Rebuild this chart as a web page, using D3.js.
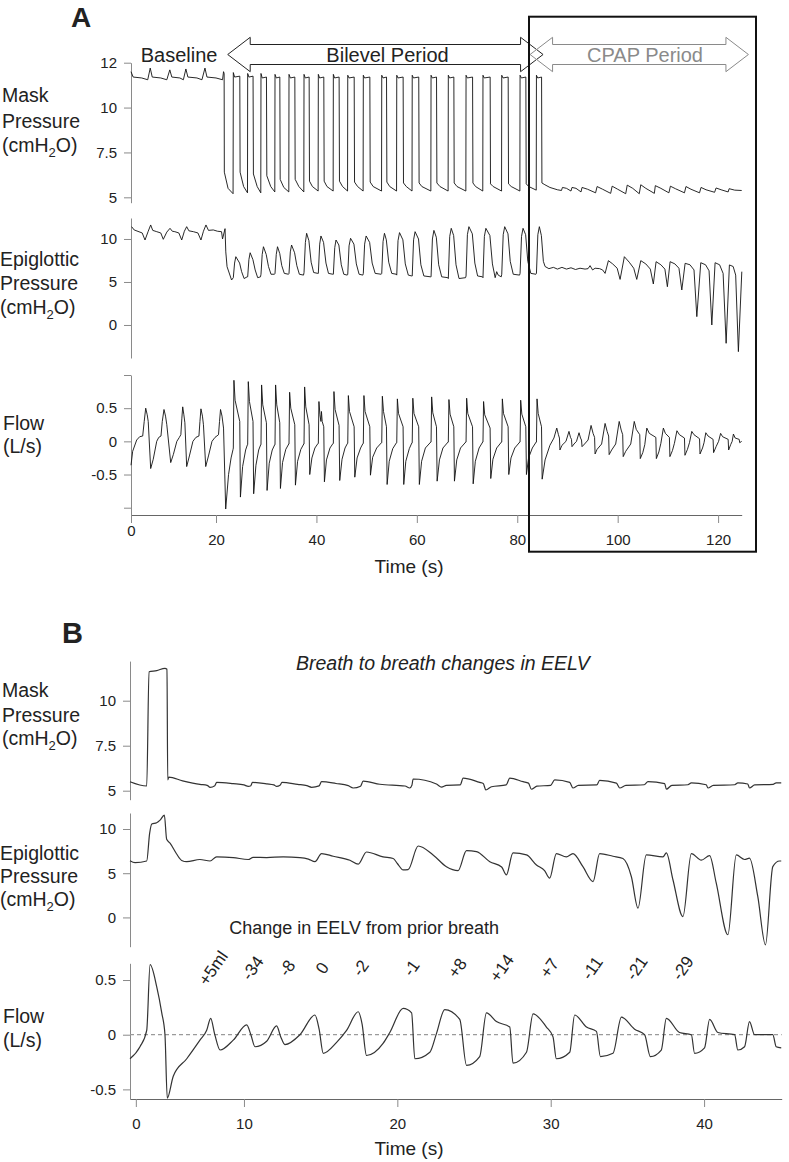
<!DOCTYPE html>
<html>
<head>
<meta charset="utf-8">
<script src="https://cdn.jsdelivr.net/npm/d3@7"></script>
<style>
body { margin: 0; background: #fff; }
text { font-family: "Liberation Sans", Arial, sans-serif; fill: #222; }
</style>
</head>
<body>
<div id="chart"></div>
<script>
// ---- panel A traces, [time s, value] ----
var maskA = [
[3.07,12.0],[3.5,11.7],[5.2,11.65],[6.4,11.55],[6.9,12.2],[7.3,11.7],[9.0,11.65],[10.2,11.55],[10.8,12.1],[11.2,11.7],[12.8,11.65],[13.5,11.55],[14.0,12.15],[14.4,11.7],[16.2,11.65],[17.2,11.55],[17.8,12.2],[18.2,11.7],[20.0,11.65],[21.3,11.55],[21.5,12.0],[21.62,11.9],
[21.66,6.4],[22.4,5.5],[23.4,5.2],
[23.45,11.95],[23.7,11.7],[24.74,11.75],[24.8,6.4],[25.5,5.6],[26.27,5.25],
[26.31,11.9],[26.55,11.7],[27.38,11.75],[27.45,6.3],[28.2,5.6],[28.92,5.25],
[28.96,11.9],[29.2,11.65],[30.05,11.7],[30.12,6.2],[30.9,5.6],[31.71,5.3],
[31.75,11.85],[32.0,11.65],[32.71,11.7],[32.78,6.0],[33.5,5.55],[34.5,5.3],
[34.54,11.85],[34.8,11.65],[35.7,11.7],[35.77,6.0],[36.5,5.6],[37.49,5.3],
[37.53,11.85],[37.78,11.65],[38.55,11.7],[38.62,5.9],[39.2,5.6],[40.34,5.35],
[40.38,11.85],[40.63,11.65],[41.47,11.7],[41.54,5.9],[42.1,5.6],[43.33,5.35],
[43.37,11.85],[43.62,11.65],[44.52,11.7],[44.59,5.9],[45.2,5.6],[46.2,5.35],
[46.24,11.8],[46.49,11.65],[47.52,11.7],[47.59,5.85],[48.2,5.6],[49.3,5.35],
[49.34,11.8],[49.59,11.65],[50.64,11.7],[50.71,5.85],[51.3,5.6],[52.97,5.35],
[53.01,11.8],[53.26,11.65],[53.96,11.7],[54.03,5.85],[54.6,5.6],[55.96,5.35],
[56.0,11.8],[56.25,11.65],[57.27,11.7],[57.34,5.8],[57.9,5.6],[59.04,5.35],
[59.08,11.8],[59.33,11.65],[60.38,11.7],[60.45,5.8],[61.0,5.6],[62.79,5.35],
[62.83,11.8],[63.08,11.65],[63.92,11.7],[63.99,5.8],[64.6,5.6],[66.23,5.35],
[66.27,11.8],[66.52,11.65],[67.37,11.7],[67.44,5.8],[68.0,5.6],[69.76,5.35],
[69.8,11.8],[70.05,11.65],[71.1,11.7],[71.17,5.8],[71.7,5.6],[73.13,5.35],
[73.17,11.8],[73.42,11.65],[74.6,11.7],[74.67,5.75],[75.2,5.6],[76.87,5.35],
[76.91,11.8],[77.16,11.65],[78.19,11.7],[78.26,5.75],[78.8,5.6],[80.52,5.35],
[80.56,11.8],[80.81,11.65],[81.71,11.7],[81.78,5.75],[82.3,5.6],[83.78,5.4],
[83.82,11.8],[84.07,11.65],[84.84,11.7],[84.91,5.8],
[85.5,5.7],[86.5,5.55],[88.0,5.42],[88.8,5.38],[89.0,5.55],[89.8,5.5],[90.7,5.35],[90.9,5.55],[91.7,5.5],[92.7,5.3],[92.9,5.55],[94.0,5.45],[95.6,5.25],[95.9,5.6],[97.0,5.45],[98.6,5.22],[98.9,5.62],[100.0,5.45],[101.6,5.2],[101.9,5.68],[103.0,5.5],[104.3,5.2],[104.6,5.7],[105.6,5.5],[107.3,5.22],[107.5,5.65],[108.6,5.5],[110.2,5.25],[110.5,5.62],[111.5,5.48],[113.3,5.25],[113.6,5.6],[114.6,5.45],[116.3,5.25],[116.6,5.55],[117.6,5.42],[119.3,5.28],[119.6,5.52],[120.6,5.42],[122.0,5.3],[122.2,5.48],[123.3,5.4],[124.7,5.38]
];

var epiA = [
[3.2,11.43],[3.7,11.05],[5.3,10.7],[5.86,9.88],[6.5,10.9],[6.99,11.63],[7.4,11.0],[8.2,10.85],[9.0,10.7],[9.5,9.96],[10.2,10.8],[10.84,11.24],[11.3,10.9],[11.8,10.85],[12.6,10.7],[13.17,9.88],[13.7,10.9],[14.16,11.43],[14.6,10.95],[15.5,10.85],[16.4,10.7],[17.0,9.88],[17.5,10.9],[18.0,11.63],[18.5,11.0],[19.46,11.05],[20.3,10.9],[21.1,10.85],[21.3,10.0],[21.8,11.2],[21.95,8.5],[22.2,6.78],[23.1,5.23],
[23.45,5.5],[23.7,7.2],[23.95,7.94],[24.7,7.2],[25.1,6.2],[25.6,5.4],[26.2,5.6],
[26.31,5.6],[26.55,7.6],[26.8,8.4],[27.35,7.6],[27.8,6.4],[28.3,5.5],[28.86,5.6],
[28.96,5.9],[29.2,8.2],[29.45,9.1],[30.0,8.2],[30.45,6.8],[30.95,5.9],[31.65,5.9],
[31.75,6.0],[32.0,8.2],[32.25,9.1],[32.7,8.3],[33.1,6.9],[33.6,6.0],[34.44,5.9],
[34.54,6.0],[34.8,8.5],[35.05,9.3],[35.65,8.4],[36.1,6.9],[36.6,5.9],[37.43,5.8],
[37.53,6.1],[37.8,9.6],[38.05,10.66],[38.5,9.8],[38.95,7.3],[39.45,6.1],[40.28,6.0],
[40.38,6.0],[40.65,9.4],[40.9,10.35],[41.42,9.6],[41.9,7.2],[42.4,6.0],[43.27,5.9],
[43.37,5.9],[43.65,9.0],[43.9,9.88],[44.47,9.3],[44.95,7.0],[45.45,5.9],[46.14,5.8],
[46.24,5.9],[46.5,9.2],[46.8,10.08],[47.47,9.4],[47.95,7.1],[48.5,5.9],[49.24,5.8],
[49.34,6.0],[49.6,9.4],[49.9,10.35],[50.6,9.6],[51.1,7.2],[51.7,6.0],[52.9,5.9],
[53.01,6.0],[53.27,9.7],[53.55,10.66],[53.92,9.9],[54.4,7.3],[55.0,6.0],[55.9,5.9],
[56.0,5.8],[56.25,9.8],[56.55,10.74],[57.22,9.9],[57.7,7.1],[58.3,5.8],[58.98,5.7],
[59.08,5.7],[59.35,9.9],[59.65,10.85],[60.33,10.0],[60.8,7.0],[61.4,5.7],[62.73,5.6],
[62.83,5.6],[63.1,10.0],[63.4,11.0],[63.88,10.2],[64.35,7.0],[64.95,5.6],[66.17,5.5],
[66.27,5.4],[66.55,10.3],[66.85,11.24],[67.33,10.4],[67.8,7.0],[68.4,5.4],[69.7,5.5],
[69.8,5.7],[70.07,10.5],[70.37,11.43],[71.05,10.6],[71.55,7.2],[72.1,5.7],[73.07,5.6],
[73.17,5.5],[73.45,10.3],[73.75,11.24],[74.55,10.4],[75.05,7.1],[75.6,5.5],[75.9,6.2],[76.2,5.8],[76.81,5.6],
[76.91,5.9],[77.2,10.5],[77.5,11.43],[78.15,10.6],[78.6,7.4],[79.2,5.9],[80.46,5.8],
[80.56,6.0],[80.85,10.3],[81.15,11.24],[81.67,10.5],[82.1,7.4],[82.7,6.0],[83.72,5.9],
[83.82,6.0],[84.1,10.5],[84.4,11.43],[84.8,10.4],[85.2,7.4],
[85.54,6.8],[86.3,6.55],[87.2,6.7],[88.0,6.5],[88.9,6.7],[89.8,6.5],[90.7,6.65],[91.6,6.45],[92.5,6.6],[93.5,6.5],[94.1,6.55],[94.5,6.9],[95.0,6.4],[95.5,6.6],[96.4,6.55],[97.0,6.4],[97.49,6.0],[98.15,7.48],[99.0,7.1],[99.9,6.6],[100.48,5.3],[101.33,7.94],[102.3,7.3],[103.2,6.6],[103.8,5.3],[104.6,7.48],[105.6,7.1],[106.5,6.5],[107.1,4.77],[107.65,7.36],[108.6,7.0],[109.4,6.5],[109.9,4.45],[110.44,7.36],[111.4,7.1],[112.2,6.6],[112.77,4.07],[113.43,7.17],[114.4,7.0],[115.2,6.4],[115.76,0.97],[116.55,7.24],[117.5,7.0],[118.2,6.3],[118.75,0.0],[119.4,7.24],[120.3,7.0],[121.0,6.0],[121.6,-2.13],[122.25,6.98],[123.0,6.8],[123.5,5.8],[124.04,-3.1],[124.72,6.2]
];

var flowA = [
[3.07,-0.36],[3.4,-0.15],[4.2,0.02],[4.8,0.07],[5.4,0.08],[5.7,0.3],[6.0,0.5],[6.3,0.4],[6.5,0.3],[6.99,-0.41],[7.5,-0.27],[8.19,0.0],[8.6,0.06],[9.04,0.08],[9.3,0.3],[9.64,0.48],[9.95,0.38],[10.2,0.25],[10.98,-0.32],[11.5,-0.2],[12.2,0.0],[12.7,0.06],[13.0,0.1],[13.2,0.35],[13.37,0.52],[13.6,0.4],[13.8,0.28],[14.16,-0.38],[14.7,-0.22],[15.4,0.0],[16.0,0.06],[16.6,0.08],[16.8,0.3],[17.0,0.49],[17.3,0.38],[17.5,0.25],[17.95,-0.38],[18.5,-0.22],[19.2,0.0],[19.8,0.06],[20.5,0.1],[20.7,0.3],[20.9,0.48],[21.2,0.38],[21.5,0.2],[21.93,-1.02],[22.5,-0.5],[23.0,-0.25],[23.4,-0.12],
[23.45,-0.1],[23.57,0.92],[23.8,0.62],[24.73,0.3],[24.86,-0.84],[25.3,-0.38],[25.9,-0.13],[26.26,-0.05],
[26.31,-0.05],[26.43,0.90],[26.66,0.6],[27.37,0.3],[27.5,-0.79],[27.95,-0.36],[28.5,-0.13],[28.91,-0.05],
[28.96,-0.05],[29.08,0.85],[29.31,0.55],[30.04,0.28],[30.17,-0.74],[30.6,-0.33],[31.2,-0.13],[31.7,-0.05],
[31.75,-0.05],[31.87,0.85],[32.1,0.55],[32.7,0.28],[32.83,-0.71],[33.25,-0.32],[33.9,-0.12],[34.49,-0.04],
[34.54,-0.04],[34.66,0.74],[34.89,0.5],[35.69,0.25],[35.82,-0.66],[36.25,-0.3],[36.9,-0.12],[37.48,-0.04],
[37.53,-0.04],[37.65,0.82],[37.88,0.52],[38.54,0.25],[38.67,-0.5],[39.1,-0.25],[39.7,-0.1],[40.33,-0.03],
[40.38,-0.03],[40.5,0.6],[40.7,0.4],[40.9,0.3],[41.0,0.45],[41.15,0.3],[41.46,0.22],[41.59,-0.61],[42.0,-0.28],[42.7,-0.1],[43.32,-0.03],
[43.37,-0.03],[43.49,0.75],[43.72,0.48],[44.51,0.24],[44.64,-0.59],[45.1,-0.27],[45.7,-0.1],[46.19,-0.03],
[46.24,-0.03],[46.36,0.69],[46.59,0.45],[47.51,0.22],[47.64,-0.54],[48.1,-0.25],[48.8,-0.1],[49.29,-0.03],
[49.34,-0.03],[49.46,0.69],[49.69,0.45],[50.63,0.22],[50.76,-0.51],[51.2,-0.24],[52.0,-0.1],[52.96,-0.02],
[53.01,-0.02],[53.13,0.68],[53.36,0.45],[53.95,0.22],[54.08,-0.65],[54.5,-0.3],[55.2,-0.11],[55.95,-0.02],
[56.0,-0.02],[56.12,0.64],[56.35,0.42],[57.26,0.22],[57.39,-0.65],[57.8,-0.3],[58.5,-0.11],[59.03,-0.02],
[59.08,-0.02],[59.2,0.65],[59.43,0.42],[60.37,0.22],[60.5,-0.65],[60.95,-0.3],[61.7,-0.1],[62.78,-0.01],
[62.83,-0.01],[62.95,0.67],[63.18,0.43],[63.91,0.22],[64.04,-0.6],[64.5,-0.28],[65.2,-0.1],[66.22,-0.01],
[66.27,-0.01],[66.39,0.63],[66.62,0.41],[67.36,0.22],[67.49,-0.6],[67.95,-0.28],[68.7,-0.1],[69.75,-0.01],
[69.8,-0.01],[69.92,0.65],[70.15,0.42],[71.09,0.22],[71.22,-0.64],[71.65,-0.3],[72.4,-0.1],[73.12,-0.01],
[73.17,-0.01],[73.29,0.6],[73.52,0.4],[74.59,0.2],[74.72,-0.56],[75.15,-0.27],[75.9,-0.1],[76.86,-0.01],
[76.91,-0.01],[77.03,0.64],[77.26,0.42],[78.18,0.22],[78.31,-0.5],[78.75,-0.25],[79.5,-0.1],[80.51,-0.01],
[80.56,-0.01],[80.68,0.62],[80.91,0.41],[81.7,0.22],[81.83,-0.5],[82.25,-0.25],[83.0,-0.1],[83.77,-0.01],
[83.82,-0.01],[83.94,0.64],[84.17,0.42],[84.83,0.22],[84.96,-0.57],[85.54,-0.28],[86.5,-0.06],
[87.3,0.05],[87.87,0.2],[88.2,0.1],[88.4,0.05],[88.5,-0.13],[88.9,-0.06],[89.7,0.0],[90.3,0.15],[90.6,0.06],[90.8,0.03],[90.9,-0.08],[91.3,-0.04],[91.8,0.0],[92.3,0.13],[92.6,0.05],[92.8,0.02],[92.9,-0.08],[93.4,-0.04],[94.1,0.02],[94.7,0.24],[95.1,0.12],[95.4,0.06],[95.5,-0.19],[95.9,-0.12],[96.8,-0.04],[97.49,0.27],[97.9,0.15],[98.2,0.08],[98.3,-0.2],[98.8,-0.13],[99.6,-0.04],[100.3,0.3],[100.7,0.17],[101.0,0.1],[101.1,-0.23],[101.6,-0.15],[102.6,-0.04],[103.3,0.3],[103.7,0.18],[104.4,0.1],[104.5,-0.26],[105.0,-0.17],[105.4,-0.05],[105.8,0.2],[106.3,0.12],[107.6,0.06],[107.7,-0.26],[108.2,-0.16],[108.6,-0.03],[109.1,0.2],[109.5,0.12],[110.3,0.06],[110.4,-0.23],[110.9,-0.14],[111.3,-0.03],[111.8,0.16],[112.3,0.1],[113.3,0.05],[113.4,-0.21],[113.9,-0.12],[114.3,-0.02],[114.76,0.15],[115.2,0.1],[116.3,0.04],[116.4,-0.19],[116.9,-0.1],[117.2,-0.02],[117.55,0.13],[118.0,0.08],[119.0,0.03],[119.1,-0.17],[119.6,-0.08],[120.1,0.0],[120.5,0.12],[120.9,0.07],[122.0,0.03],[122.1,-0.13],[122.5,-0.05],[122.8,0.0],[123.05,0.11],[123.4,0.05],[124.2,0.03],[124.3,-0.02],[124.7,0.0]
];

// ---- panel B traces ----
var maskB = [
[2.57,5.5],[3.66,5.26],[3.81,11.61],[4.31,11.67],[4.85,11.8],[4.98,11.75],[5.03,5.6],[5.1,5.75],[6.0,5.55],[7.13,5.35],[7.6,5.3],[7.79,5.19],[8.1,5.28],[8.22,5.46],[9.3,5.39],[10.0,5.32],[10.28,5.24],[10.45,5.28],[10.55,5.46],[11.5,5.38],[11.95,5.32],[12.13,5.24],[12.35,5.3],[12.48,5.46],[13.5,5.35],[14.1,5.28],[14.41,5.19],[14.9,5.27],[15.06,5.5],[16.0,5.4],[16.8,5.28],[17.12,5.15],[17.6,5.25],[17.77,5.53],[18.86,5.36],[20.5,5.26],[20.81,5.15],[20.95,5.3],[21.03,5.65],[22.55,5.37],[22.88,5.2],[23.2,5.3],[24.1,5.32],[24.29,5.7],[25.37,5.46],[25.6,5.4],[25.77,5.04],[26.14,5.22],[27.1,5.32],[27.33,5.7],[28.2,5.5],[28.55,5.42],[28.74,5.08],[29.1,5.25],[30.0,5.3],[30.26,5.6],[31.24,5.46],[31.45,5.15],[31.8,5.3],[33.0,5.32],[33.19,5.57],[34.28,5.42],[34.5,5.15],[34.9,5.3],[36.1,5.33],[36.34,5.5],[37.43,5.39],[37.54,5.08],[37.9,5.3],[38.95,5.33],[39.17,5.44],[40.14,5.33],[40.25,5.15],[40.6,5.3],[42.0,5.33],[42.2,5.44],[42.85,5.37],[42.96,5.15],[43.3,5.32],[44.5,5.35],[44.7,5.44],[45.03,5.44]
];

var epiB = [
[2.57,6.42],[2.9,6.2],[3.66,6.38],[3.85,9.5],[3.99,10.56],[4.31,10.7],[4.53,11.0],[4.81,11.58],[4.96,8.84],[5.18,8.4],[5.6,7.2],[5.94,6.44],[6.27,6.3],[7.13,6.55],[7.79,6.38],[8.22,6.85],[9.3,6.77],[10.28,6.55],[10.6,6.8],[11.48,6.77],[12.56,6.85],[13.65,6.77],[14.2,6.6],[14.63,6.3],[15.06,7.22],[15.82,6.92],[16.91,6.47],[17.45,6.02],[17.99,7.4],[19.07,6.85],[19.73,6.66],[20.0,6.1],[20.38,5.37],[20.7,5.4],[21.36,8.08],[22.33,7.07],[23.2,5.74],[23.96,5.3],[24.51,7.55],[25.16,7.45],[26.03,6.3],[26.8,5.7],[27.11,4.81],[27.54,7.29],[28.42,7.07],[29.07,5.93],[29.6,5.3],[29.93,4.44],[30.37,7.22],[31.02,6.85],[31.45,7.22],[32.1,5.74],[32.76,4.06],[33.19,7.22],[34.06,6.92],[34.71,6.66],[35.26,4.6],[35.69,1.05],[36.23,7.07],[37.32,6.85],[37.54,7.3],[37.97,4.26],[38.62,0.1],[39.17,7.22],[39.82,6.47],[40.36,7.0],[40.79,3.9],[41.55,-1.96],[42.1,7.07],[42.64,6.55],[42.96,6.7],[43.5,2.37],[44.0,-3.1],[44.48,5.74],[44.92,6.38],[45.03,6.38]
];

var flowB = [
[2.57,-0.22],[3.22,-0.11],[3.66,0.04],[3.88,0.64],[4.31,0.44],[4.64,0.2],[4.85,0.0],[5.0,-0.58],[5.39,-0.38],[6.27,-0.22],[7.13,-0.05],[7.57,0.04],[7.83,0.15],[8.1,0.0],[8.44,-0.14],[9.3,-0.05],[10.18,0.09],[10.45,0.0],[10.72,-0.11],[11.48,-0.06],[12.13,0.08],[12.4,-0.02],[12.67,-0.09],[13.65,0.0],[14.63,0.18],[14.9,0.05],[15.17,-0.17],[16.04,-0.07],[16.69,0.04],[17.45,0.21],[17.7,0.1],[17.99,-0.19],[19.07,-0.08],[19.51,0.02],[20.38,0.24],[20.93,0.2],[21.14,-0.22],[22.12,-0.16],[22.55,0.01],[23.09,0.23],[24.07,0.14],[24.51,-0.28],[25.37,-0.2],[25.81,0.2],[26.46,0.12],[27.33,0.07],[27.54,-0.26],[28.42,-0.16],[28.85,0.19],[29.72,0.07],[30.15,-0.02],[30.37,-0.22],[31.24,-0.16],[31.56,0.18],[32.33,0.07],[32.98,0.03],[33.24,-0.2],[34.06,-0.17],[34.61,0.16],[35.47,0.05],[36.12,0.0],[36.5,-0.2],[37.21,-0.14],[37.54,0.15],[38.4,0.02],[39.17,0.0],[39.38,-0.17],[40.03,-0.12],[40.36,0.14],[40.9,0.02],[41.99,0.0],[42.2,-0.14],[42.64,-0.11],[42.96,0.12],[43.29,0.0],[44.48,0.0],[44.7,-0.11],[45.03,-0.12]
];

// ---- ticks and labels ----
var maskTicksA = [5, 7.5, 10, 12.5], maskLabelsA = ["5", "7.5", "10", "12"];
var epiTicks = [0, 5, 10], epiLabels = ["0", "5", "10"];
var flowTicksA = [-1, -0.5, 0, 0.5, 1], flowLabelsA = ["", "-0.5", "0", "0.5", ""];
var timeTicksA = [3.07, 20, 40, 60, 80, 100, 120], timeLabelsA = ["0", "20", "40", "60", "80", "100", "120"];
var maskTicksB = [5, 7.5, 10], maskLabelsB = ["5", "7.5", "10"];
var flowTicksB = [-0.5, 0, 0.5], flowLabelsB = ["-0.5", "0", "0.5"];
var timeTicksB = [2.95, 10, 20, 30, 40], timeLabelsB = ["0", "10", "20", "30", "40"];

var eelvText = ["+5ml", "-34", "-8", "0", "-2", "-1", "+8", "+14", "+7", "-11", "-21", "-29"];
var eelvTime = [7.98, 10.55, 12.8, 15.1, 17.6, 20.9, 23.9, 26.8, 29.9, 32.7, 35.6, 38.6];

// period arrows (time at arrow tips)
var bilevelSpan = [22.33, 85.14], cpapSpan = [82.55, 126.04];

var width = 789, height = 1162;
var svg = d3.select("#chart").append("svg")
            .attr("width", width)
            .attr("height", height);

// scales
var xA = d3.scaleLinear().domain([3.07, 124.7]).range([131, 741.7]);
var yMaskA = d3.scaleLinear().domain([4.7, 12.5]).range([202.7, 62.7]);
var yEpiA = d3.scaleLinear().domain([-3.84, 12.44]).range([358, 218]);
var yFlowA = d3.scaleLinear().domain([-1.11, 1.0]).range([515, 375]);

var xB = d3.scaleLinear().domain([2.57, 45.06]).range([130, 781.7]);
var yMaskB = d3.scaleLinear().domain([4.5, 12.2]).range([799.7, 661.1]);
var yEpiB = d3.scaleLinear().domain([-3.31, 11.81]).range([946.7, 813]);
var yFlowB = d3.scaleLinear().domain([-0.588, 0.653]).range([1099, 963.3]);

function styleAxis(g) {
  g.select(".domain").attr("stroke", "#8a8a8a");
  g.selectAll(".tick line").attr("stroke", "#8a8a8a");
  g.selectAll(".tick text").attr("font-size", 15).attr("fill", "#222")
   .attr("font-family", "Liberation Sans, Arial, sans-serif");
}

function yAxis(scale, x, ticks, labels) {
  var g = svg.append("g").attr("transform", "translate(" + x + ",0)")
    .call(d3.axisLeft(scale).tickValues(ticks)
      .tickFormat(function(d, i) { return labels[i]; })
      .tickSize(7).tickPadding(7).tickSizeOuter(0));
  styleAxis(g);
  return g;
}

function xAxis(scale, y, ticks, labels) {
  var g = svg.append("g").attr("transform", "translate(0," + y + ")")
    .call(d3.axisBottom(scale).tickValues(ticks)
      .tickFormat(function(d, i) { return labels[i]; })
      .tickSize(8).tickPadding(11).tickSizeOuter(0));
  styleAxis(g);
  g.select(".domain").attr("stroke", "#666");
  return g;
}

function trace(data, x, y, curve, color, w) {
  var line = d3.line()
      .x(function(d) { return x(d[0]); })
      .y(function(d) { return y(d[1]); })
      .curve(curve);
  svg.append("path").datum(data)
     .attr("d", line)
     .attr("fill", "none")
     .attr("stroke", color)
     .attr("stroke-width", w)
     .attr("stroke-linejoin", "round");
}

function sideLabel(x, ys, lines) {
  lines.forEach(function(l, i) {
    var t = svg.append("text").attr("x", x).attr("y", ys[i]).attr("font-size", 19.5);
    if (l === "(cmH2O)") {
      t.append("tspan").text("(cmH");
      t.append("tspan").attr("font-size", 13).attr("dy", 5).text("2");
      t.append("tspan").attr("dy", -5).text("O)");
    } else {
      t.text(l);
    }
  });
}

// ---- panel A ----
svg.append("text").attr("x", 71).attr("y", 27).attr("font-size", 28)
   .attr("font-weight", "bold").text("A");

yAxis(yMaskA, 131, maskTicksA, maskLabelsA);
yAxis(yEpiA, 131, epiTicks, epiLabels);
yAxis(yFlowA, 131, flowTicksA, flowLabelsA);
var gxA = xAxis(xA, 515, timeTicksA, timeLabelsA);
gxA.selectAll(".tick text").filter(function(d, i) { return i === 0; }).attr("y", 10);

trace(maskA, xA, yMaskA, d3.curveLinear, "#111", 0.9);
trace(epiA, xA, yEpiA, d3.curveLinear, "#111", 0.9);
trace(flowA, xA, yFlowA, d3.curveLinear, "#111", 0.9);

sideLabel(2, [102, 128, 152], ["Mask", "Pressure", "(cmH2O)"]);
sideLabel(0, [266, 290, 313.5], ["Epiglottic", "Pressure", "(cmH2O)"]);
sideLabel(3, [429.5, 452.5], ["Flow", "(L/s)"]);

svg.append("text").attr("x", 409).attr("y", 573).attr("font-size", 19)
   .attr("text-anchor", "middle").text("Time (s)");

// double-headed arrows
function arrowPoints(x1, x2) {
  var cy = 54.5, s = 10, H = 17.2, h = 22.5;
  return [[x1, cy], [x1 + h, cy - H], [x1 + h, cy - s], [x2 - h, cy - s], [x2 - h, cy - H],
          [x2, cy], [x2 - h, cy + H], [x2 - h, cy + s], [x1 + h, cy + s], [x1 + h, cy + H], [x1, cy]];
}
var arrowLine = d3.line();
svg.append("path").attr("d", arrowLine(arrowPoints(xA(bilevelSpan[0]), xA(bilevelSpan[1]))))
   .attr("fill", "none").attr("stroke", "#222").attr("stroke-width", 1);
svg.append("path").attr("d", arrowLine(arrowPoints(xA(cpapSpan[0]), xA(cpapSpan[1]))))
   .attr("fill", "none").attr("stroke", "#8a8a8a").attr("stroke-width", 1);

svg.append("text").attr("x", 140.7).attr("y", 62).attr("font-size", 20).text("Baseline");
svg.append("text").attr("x", 387.5).attr("y", 62).attr("font-size", 20)
   .attr("text-anchor", "middle").text("Bilevel Period");
svg.append("text").attr("x", 645).attr("y", 62).attr("font-size", 20)
   .attr("text-anchor", "middle").style("fill", "#8a8a8a").text("CPAP Period");

// CPAP box
svg.append("rect").attr("x", 529).attr("y", 16.7).attr("width", 227).attr("height", 535)
   .attr("fill", "none").attr("stroke", "#111").attr("stroke-width", 2);

// ---- panel B ----
svg.append("text").attr("x", 62).attr("y", 643).attr("font-size", 29)
   .attr("font-weight", "bold").text("B");

svg.append("text").attr("x", 296).attr("y", 670).attr("font-size", 19.5)
   .attr("font-style", "italic").text("Breath to breath changes in EELV");

yAxis(yMaskB, 130, maskTicksB, maskLabelsB);
yAxis(yEpiB, 130, epiTicks, epiLabels);
yAxis(yFlowB, 130, flowTicksB, flowLabelsB);
xAxis(xB, 1099, timeTicksB, timeLabelsB);

svg.append("line")
   .attr("x1", xB.range()[0]).attr("x2", xB.range()[1])
   .attr("y1", yFlowB(0)).attr("y2", yFlowB(0))
   .attr("stroke", "#9a9a9a").attr("stroke-width", 1.2).attr("stroke-dasharray", "4,3");

trace(maskB, xB, yMaskB, d3.curveMonotoneX, "#333", 1.2);
trace(epiB, xB, yEpiB, d3.curveMonotoneX, "#333", 1.2);
trace(flowB, xB, yFlowB, d3.curveMonotoneX, "#333", 1.2);

sideLabel(2, [697, 721.5, 745], ["Mask", "Pressure", "(cmH2O)"]);
sideLabel(0, [859.5, 883, 906], ["Epiglottic", "Pressure", "(cmH2O)"]);
sideLabel(3, [1023, 1047], ["Flow", "(L/s)"]);

svg.append("text").attr("x", 229.3).attr("y", 933.5).attr("font-size", 18)
   .text("Change in EELV from prior breath");

svg.selectAll(".eelv").data(eelvText).enter().append("text")
   .attr("class", "eelv")
   .attr("font-size", 17)
   .attr("text-anchor", "middle")
   .attr("dy", "0.35em")
   .attr("transform", function(d, i) {
     return "translate(" + xB(eelvTime[i]) + "," + yFlowB(0.61) + ") rotate(-55)";
   })
   .text(function(d) { return d; });

svg.append("text").attr("x", 409).attr("y", 1155).attr("font-size", 19)
   .attr("text-anchor", "middle").text("Time (s)");
</script>
</body>
</html>
